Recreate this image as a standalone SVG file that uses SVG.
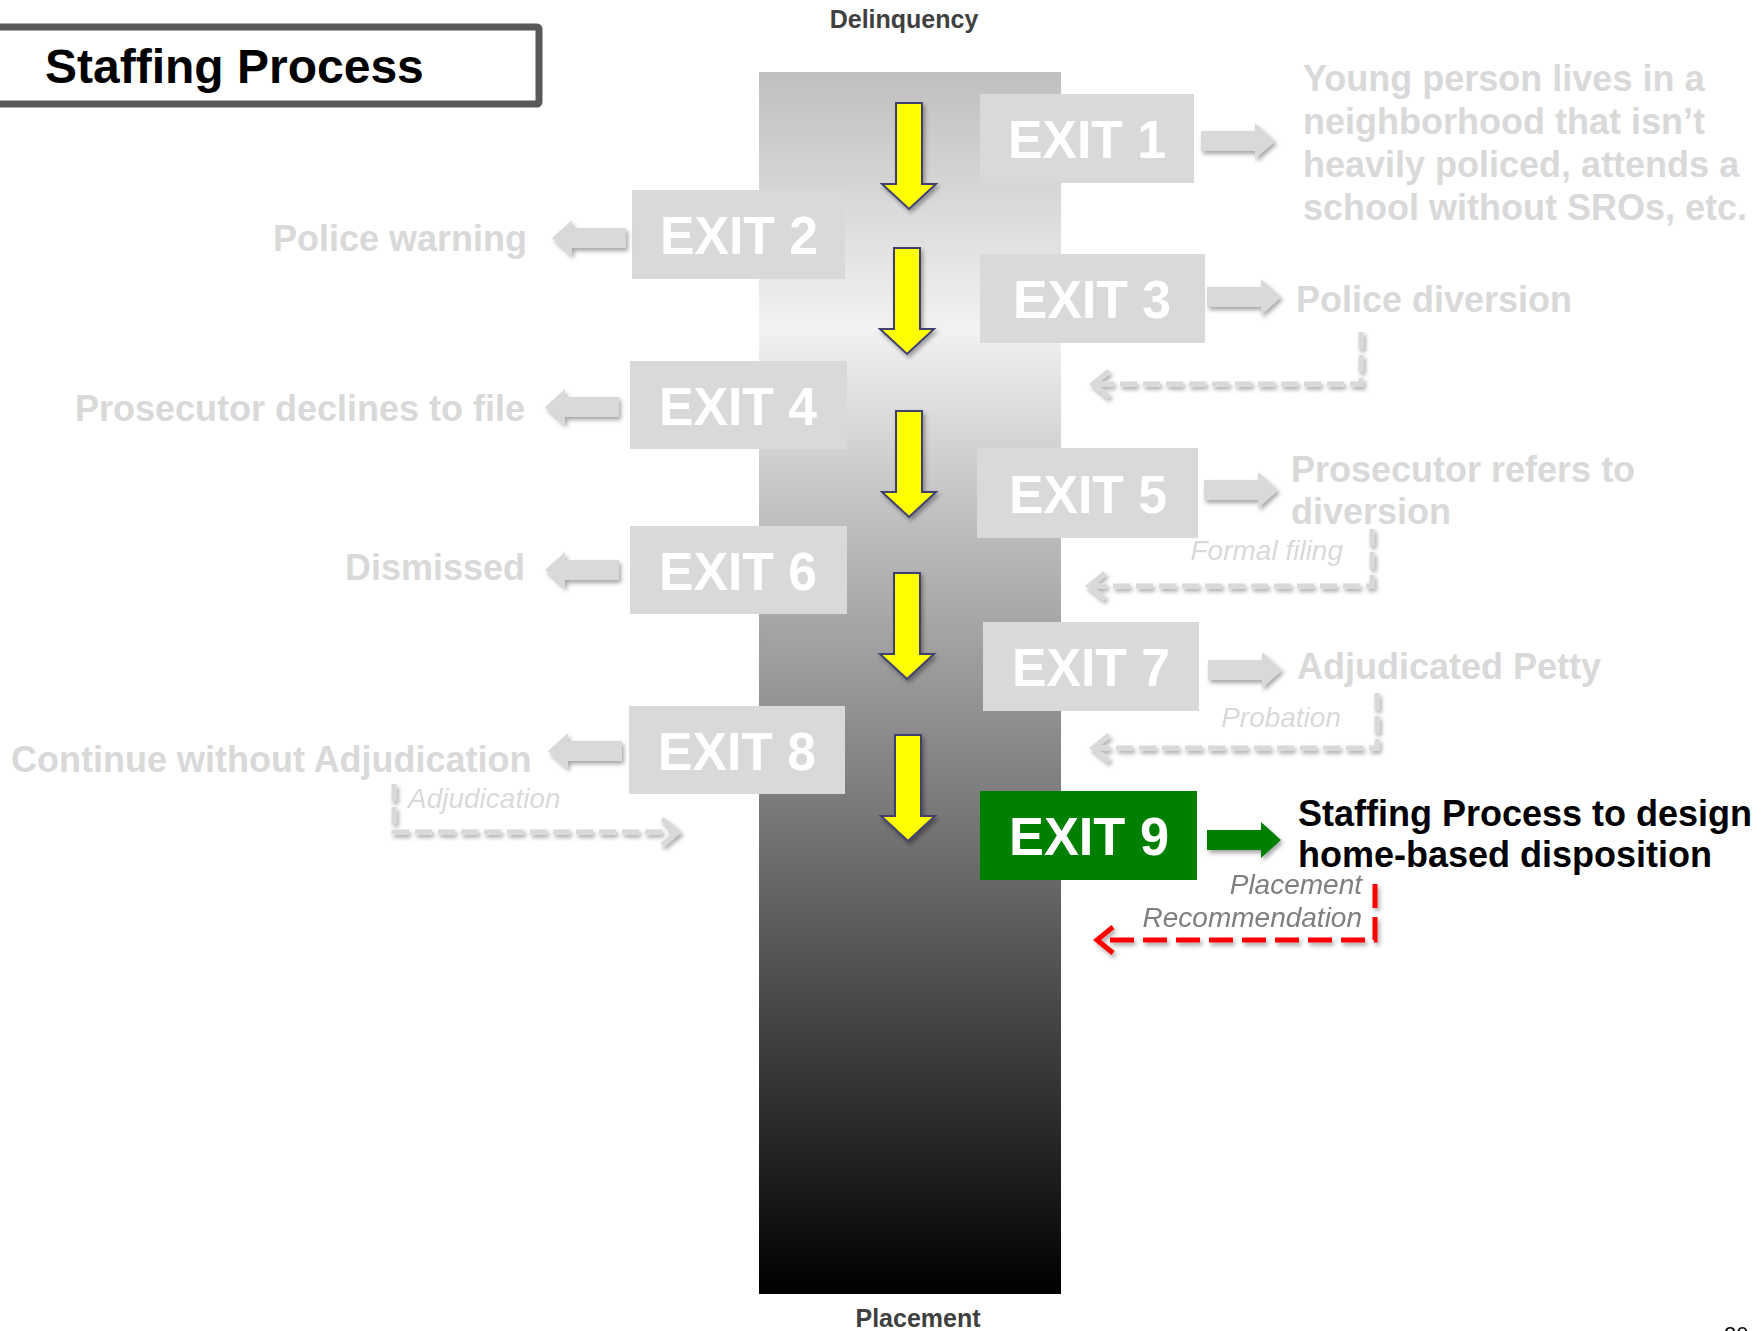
<svg xmlns="http://www.w3.org/2000/svg" width="1764" height="1331" viewBox="0 0 1764 1331">
  <defs>
    <linearGradient id="colGrad" x1="0" y1="0" x2="0" y2="1">
      <stop offset="0" stop-color="#bfbfbf"/>
      <stop offset="0.21" stop-color="#f2f2f2"/>
      <stop offset="0.35" stop-color="#c4c4c4"/>
      <stop offset="0.6" stop-color="#7a7a7a"/>
      <stop offset="0.85" stop-color="#2e2e2e"/>
      <stop offset="1" stop-color="#000000"/>
    </linearGradient>
    <filter id="shadow" x="-20%" y="-40%" width="150%" height="190%">
      <feDropShadow dx="2" dy="3" stdDeviation="2" flood-color="#000" flood-opacity="0.35"/>
    </filter>
    <path id="downArrow" d="M-13,0 H13 V81 H27 L0,106 L-27,81 H-13 Z"/>
    <path id="blockArrow" d="M-74,-10 H-20 V-18 L0,0 L-20,18 V10 H-74 Z"/>
    <marker id="chevGray" markerUnits="userSpaceOnUse" markerWidth="40" markerHeight="40" viewBox="-24 -20 30 40" refX="0" refY="0" orient="auto">
      <path d="M-16,-13 L0,0 L-16,13" fill="none" stroke="#d9d9d9" stroke-width="5" stroke-linejoin="miter"/>
    </marker>
    <marker id="chevRed" markerUnits="userSpaceOnUse" markerWidth="40" markerHeight="40" viewBox="-24 -20 30 40" refX="0" refY="0" orient="auto">
      <path d="M-16,-13 L0,0 L-16,13" fill="none" stroke="#ff0000" stroke-width="5" stroke-linejoin="miter"/>
    </marker>
  </defs>
  <style>
    .exitBox { fill: #d9d9d9; }
    .exitText { font-family: "Liberation Sans", Arial, sans-serif; font-weight: bold; font-size: 54px; fill: #ffffff; text-anchor: middle; }
    .label { font-family: "Liberation Sans", Arial, sans-serif; font-weight: bold; font-size: 36px; fill: #d9d9d9; }
    .note { font-family: "Liberation Sans", Arial, sans-serif; font-style: italic; font-size: 28px; fill: #d9d9d9; }
    .axis { font-family: "Liberation Sans", Arial, sans-serif; font-weight: bold; font-size: 25px; fill: #404040; text-anchor: middle; }
    .yarrow { fill: #ffff00; stroke: #404070; stroke-width: 2; }
    .garrow { fill: #d9d9d9; }
    .dashGray { fill: none; stroke: #d9d9d9; stroke-width: 5; stroke-dasharray: 17 6; }
    .dashRed { fill: none; stroke: #ff0000; stroke-width: 5; stroke-dasharray: 24 9; }
  </style>

  <rect width="1764" height="1331" fill="#ffffff"/>

  <g id="title">
    <rect x="-20" y="27" width="559" height="77" rx="2" fill="#ffffff" stroke="#595959" stroke-width="7"/>
    <text x="45" y="83" font-family="Liberation Sans, Arial, sans-serif" font-weight="bold" font-size="48" fill="#000000">Staffing Process</text>
  </g>

  <g id="column">
    <rect x="759" y="72" width="302" height="1222" fill="url(#colGrad)"/>
    <text class="axis" x="904" y="28">Delinquency</text>
    <text class="axis" x="918" y="1327">Placement</text>
  </g>

  <g id="flow-arrows" filter="url(#shadow)">
    <use href="#downArrow" class="yarrow" transform="translate(909,103)"/>
    <use href="#downArrow" class="yarrow" transform="translate(907,248)"/>
    <use href="#downArrow" class="yarrow" transform="translate(909,411)"/>
    <use href="#downArrow" class="yarrow" transform="translate(907,573)"/>
    <use href="#downArrow" class="yarrow" transform="translate(908,735)"/>
  </g>

  <g id="exit1">
    <rect class="exitBox" x="980" y="94" width="214" height="89"/>
    <text class="exitText" x="1087" y="158" textLength="158" lengthAdjust="spacingAndGlyphs">EXIT 1</text>
  </g>
  <g id="exit2">
    <rect class="exitBox" x="632" y="190" width="213" height="89"/>
    <text class="exitText" x="739" y="254" textLength="158" lengthAdjust="spacingAndGlyphs">EXIT 2</text>
  </g>
  <g id="exit3">
    <rect class="exitBox" x="980" y="254" width="225" height="89"/>
    <text class="exitText" x="1092" y="318" textLength="158" lengthAdjust="spacingAndGlyphs">EXIT 3</text>
  </g>
  <g id="exit4">
    <rect class="exitBox" x="630" y="361" width="217" height="88"/>
    <text class="exitText" x="738" y="425" textLength="158" lengthAdjust="spacingAndGlyphs">EXIT 4</text>
  </g>
  <g id="exit5">
    <rect class="exitBox" x="977" y="448" width="221" height="90"/>
    <text class="exitText" x="1088" y="513" textLength="158" lengthAdjust="spacingAndGlyphs">EXIT 5</text>
  </g>
  <g id="exit6">
    <rect class="exitBox" x="630" y="526" width="217" height="88"/>
    <text class="exitText" x="738" y="590" textLength="158" lengthAdjust="spacingAndGlyphs">EXIT 6</text>
  </g>
  <g id="exit7">
    <rect class="exitBox" x="983" y="622" width="216" height="89"/>
    <text class="exitText" x="1091" y="686" textLength="158" lengthAdjust="spacingAndGlyphs">EXIT 7</text>
  </g>
  <g id="exit8">
    <rect class="exitBox" x="629" y="706" width="216" height="88"/>
    <text class="exitText" x="737" y="770" textLength="158" lengthAdjust="spacingAndGlyphs">EXIT 8</text>
  </g>
  <g id="exit9">
    <rect x="980" y="791" width="217" height="89" fill="#008000"/>
    <text class="exitText" x="1089" y="855" textLength="160" lengthAdjust="spacingAndGlyphs">EXIT 9</text>
  </g>

  <g id="outcome1">
    <text class="label" x="1303" y="91">Young person lives in a</text>
    <text class="label" x="1303" y="134">neighborhood that isn’t</text>
    <text class="label" x="1303" y="177">heavily policed, attends a</text>
    <text class="label" x="1303" y="220">school without SROs, etc.</text>
  </g>
  <g id="outcome2"><text class="label" x="527" y="251" text-anchor="end">Police warning</text></g>
  <g id="outcome3"><text class="label" x="1296" y="312">Police diversion</text></g>
  <g id="outcome4"><text class="label" x="525" y="421" text-anchor="end">Prosecutor declines to file</text></g>
  <g id="outcome5">
    <text class="label" x="1291" y="482">Prosecutor refers to</text>
    <text class="label" x="1291" y="524">diversion</text>
  </g>
  <g id="outcome6"><text class="label" x="525" y="580" text-anchor="end">Dismissed</text></g>
  <g id="outcome7"><text class="label" x="1297" y="679">Adjudicated Petty</text></g>
  <g id="outcome8"><text class="label" x="11" y="772">Continue without Adjudication</text></g>
  <g id="outcome9">
    <text class="label" x="1298" y="826" fill="#000000" style="fill:#000000">Staffing Process to design</text>
    <text class="label" x="1298" y="867" style="fill:#000000">home-based disposition</text>
  </g>

  <g id="connectors">
    <g filter="url(#shadow)">
      <use href="#blockArrow" class="garrow" transform="translate(1275,141)"/>
      <use href="#blockArrow" class="garrow" transform="translate(1281,297)"/>
      <use href="#blockArrow" class="garrow" transform="translate(1278,490)"/>
      <use href="#blockArrow" class="garrow" transform="translate(1282,670)"/>
      <use href="#blockArrow" class="garrow" transform="translate(552,238) scale(-1,1)"/>
      <use href="#blockArrow" class="garrow" transform="translate(545,407) scale(-1,1)"/>
      <use href="#blockArrow" class="garrow" transform="translate(545,570) scale(-1,1)"/>
      <use href="#blockArrow" class="garrow" transform="translate(548,751) scale(-1,1)"/>
      <use href="#blockArrow" fill="#008000" transform="translate(1281,840)"/>
      <path class="dashGray" d="M1361,332 V384 H1093" marker-end="url(#chevGray)"/>
      <path class="dashGray" d="M1372,529 V586 H1089" marker-end="url(#chevGray)"/>
      <path class="dashGray" d="M1377,693 V748 H1093" marker-end="url(#chevGray)"/>
      <path class="dashGray" d="M394,784 V832 H678" marker-end="url(#chevGray)"/>
      <path class="dashRed" d="M1375,884 V940 H1097" marker-end="url(#chevRed)"/>
    </g>
    <text class="note" x="1343" y="560" text-anchor="end">Formal filing</text>
    <text class="note" x="1341" y="727" text-anchor="end">Probation</text>
    <text class="note" x="408" y="808">Adjudication</text>
    <text class="note" x="1362" y="894" text-anchor="end" style="fill:#7f7f7f">Placement</text>
    <text class="note" x="1362" y="927" text-anchor="end" style="fill:#7f7f7f">Recommendation</text>
  </g>

  <text x="1724" y="1342" font-family="Liberation Sans, Arial, sans-serif" font-size="22" fill="#000000">20</text>
</svg>
